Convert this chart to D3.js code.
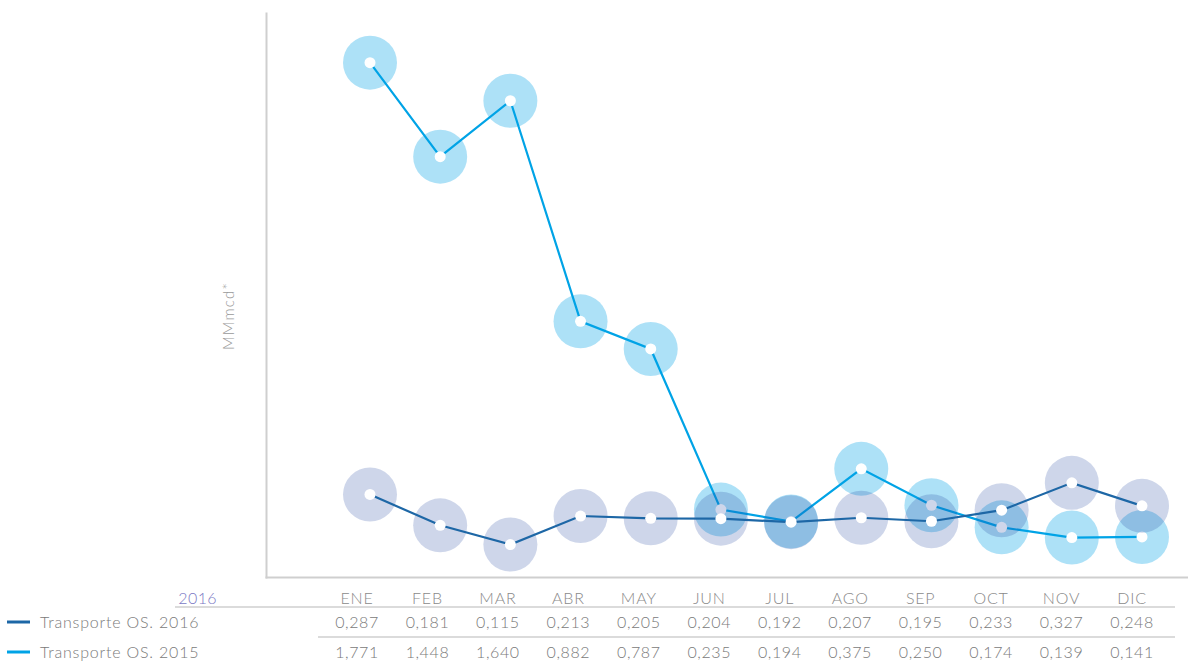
<!DOCTYPE html>
<html><head><meta charset="utf-8">
<script src="https://cdn.jsdelivr.net/npm/d3@7"></script>
<style>
body{margin:0;background:#fff;}
text{font-family:Lato,"Open Sans",sans-serif;}
</style></head>
<body><svg id="c" width="1188" height="662"></svg>
<script>
const months = ["ENE","FEB","MAR","ABR","MAY","JUN","JUL","AGO","SEP","OCT","NOV","DIC"];
const s2016 = [0.287,0.181,0.115,0.213,0.205,0.204,0.192,0.207,0.195,0.233,0.327,0.248];
const s2015 = [1.771,1.448,1.640,0.882,0.787,0.235,0.194,0.375,0.250,0.174,0.139,0.141];
const seriesNames = ["Transporte OS. 2016","Transporte OS. 2015"];
const yLabel = "MMmcd*";
const tableYear = "2016";

const fmt = v => v.toFixed(3).replace(".", ",");
const svg = d3.select("#c");

const x = d3.scalePoint().domain(months).range([370,1142]);
const xt = d3.scalePoint().domain(months).range([357,1132]);
const y = d3.scaleLinear().domain([0,1.945]).range([578,12]);

// axes (domain lines only)
const ax = svg.append("g").attr("transform","translate(266,0)").call(d3.axisLeft(y).tickValues([]).tickSizeOuter(0));
ax.select(".domain").attr("stroke","#cfcfcf").attr("stroke-width",2);
const bx = svg.append("g").attr("transform","translate(0,577)")
  .call(d3.axisBottom(d3.scaleLinear().domain([0,1]).range([265,1188])).tickValues([]).tickSizeOuter(0));
bx.select(".domain").attr("stroke","#cfcfcf").attr("stroke-width",2);

svg.append("text").attr("transform","translate(234,316) rotate(-90)")
  .attr("text-anchor","middle").attr("fill","#9a9a9a").attr("font-size",15).attr("font-weight",300)
  .attr("letter-spacing",1.2).text(yLabel);

const series = [
  {name:seriesNames[1], vals:s2015, line:"#00a3e6", fill:"rgb(0,163,230)", op:0.32},
  {name:seriesNames[0], vals:s2016, line:"#1d67a6", fill:"rgb(31,70,160)", op:0.22}
];
const line = d3.line().x((d,i)=>x(months[i])).y(d=>y(d));
series.forEach(s=>{
  const g = svg.append("g");
  g.selectAll("circle.big").data(s.vals).join("circle").attr("class","big")
    .attr("cx",(d,i)=>x(months[i])).attr("cy",d=>y(d)).attr("r",27)
    .attr("fill",s.fill).attr("fill-opacity",s.op);
  g.append("path").datum(s.vals).attr("d",line).attr("fill","none")
    .attr("stroke",s.line).attr("stroke-width",2.2);
  g.selectAll("circle.dot").data(s.vals).join("circle").attr("class","dot")
    .attr("cx",(d,i)=>x(months[i])).attr("cy",d=>y(d)).attr("r",5.5).attr("fill","#fff");
});

// table
const tg = svg.append("g");
tg.append("text").attr("x",217).attr("y",604).attr("text-anchor","end").attr("fill","#7a78c4")
  .attr("font-size",16).attr("font-weight",300).attr("letter-spacing",0.4).text(tableYear);
tg.selectAll("text.m").data(months).join("text").attr("class","m")
  .attr("x",d=>xt(d)).attr("y",604).attr("text-anchor","middle").attr("fill","#8a8a8a")
  .attr("font-size",16).attr("font-weight",300).attr("letter-spacing",0.8).text(d=>d);
tg.append("line").attr("x1",175).attr("x2",1175).attr("y1",607).attr("y2",607).attr("stroke","#cfcfcf").attr("stroke-width",1.5);
tg.append("line").attr("x1",318).attr("x2",1175).attr("y1",637).attr("y2",637).attr("stroke","#cfcfcf").attr("stroke-width",1.5);

const rows = [
  {name:seriesNames[0], vals:s2016, color:"#1d67a6", y:628},
  {name:seriesNames[1], vals:s2015, color:"#00a3e6", y:658}
];
rows.forEach(r=>{
  tg.append("line").attr("x1",7).attr("x2",30).attr("y1",r.y-6).attr("y2",r.y-6)
    .attr("stroke",r.color).attr("stroke-width",3);
  tg.append("text").attr("x",40).attr("y",r.y).attr("fill","#7a7a7a").attr("font-size",16)
    .attr("font-weight",300).attr("letter-spacing",0.8).text(r.name);
  tg.selectAll(null).data(r.vals).join("text")
    .attr("x",(d,i)=>xt(months[i])).attr("y",r.y).attr("text-anchor","middle")
    .attr("fill","#7a7a7a").attr("font-size",16).attr("font-weight",300).attr("letter-spacing",0.6).text(d=>fmt(d));
});
</script></body></html>
